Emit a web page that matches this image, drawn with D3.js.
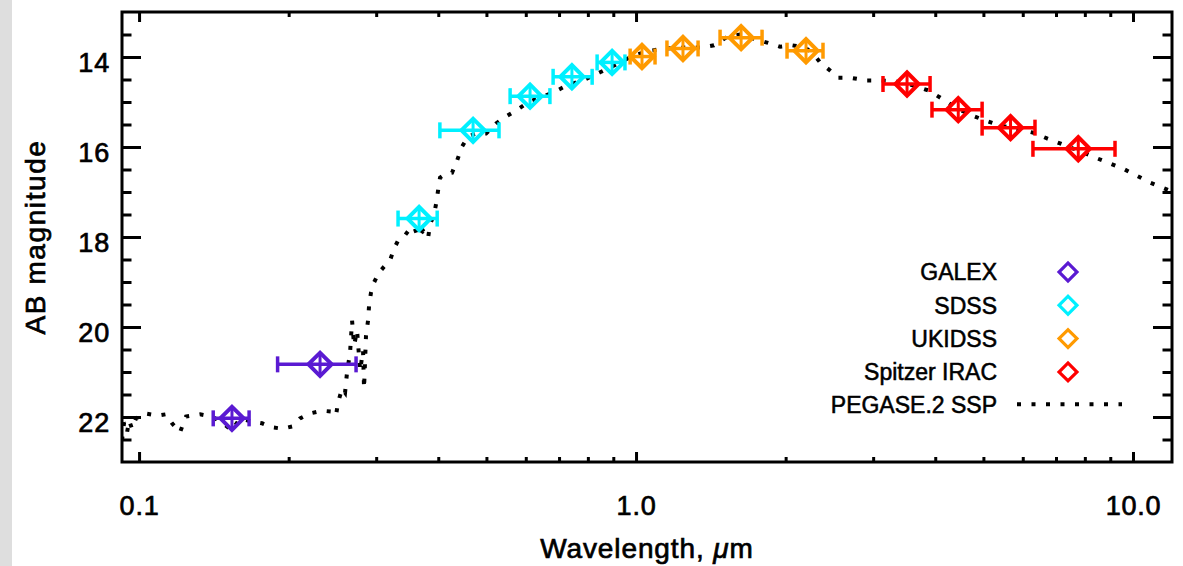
<!DOCTYPE html>
<html>
<head>
<meta charset="utf-8">
<script src="https://cdn.jsdelivr.net/npm/d3@7"></script>
<style>
  html, body { margin: 0; padding: 0; background: #ffffff; }
  svg { display: block; }
  text { font-family: "Liberation Sans", Arial, Helvetica, sans-serif; fill: #000; stroke: #000; stroke-width: 0.7px; }
</style>
</head>
<body>
<svg id="chart" width="1183" height="566"></svg>
<script>
// ---- Photometry: effective wavelength (um), AB magnitude, filter extent (um), mag error
const galexWave = [0.1538, 0.2313];
const galexMag  = [22.03, 20.83];
const galexLo   = [0.141, 0.190];
const galexHi   = [0.1665, 0.2733];
const galexErr  = [0.22, 0.22];

const sdssWave = [0.366, 0.470, 0.612, 0.743, 0.895];
const sdssMag  = [17.59, 15.63, 14.87, 14.44, 14.12];
const sdssLo   = [0.332, 0.403, 0.558, 0.681, 0.835];
const sdssHi   = [0.398, 0.530, 0.671, 0.816, 0.950];
const sdssErr  = [0.22, 0.22, 0.22, 0.22, 0.22];

const ukidssWave = [1.028, 1.243, 1.627, 2.198];
const ukidssMag  = [13.99, 13.81, 13.57, 13.86];
const ukidssLo   = [0.973, 1.154, 1.476, 2.013];
const ukidssHi   = [1.092, 1.333, 1.793, 2.378];
const ukidssErr  = [0.22, 0.22, 0.22, 0.22];

const iracWave = [3.51, 4.45, 5.67, 7.76];
const iracMag  = [14.60, 15.17, 15.57, 16.04];
const iracLo   = [3.14, 3.94, 4.97, 6.29];
const iracHi   = [3.905, 4.97, 6.35, 9.20];
const iracErr  = [0.22, 0.22, 0.22, 0.22];

// ---- PEGASE.2 single stellar population model spectrum
const modelWave = [
  0.0924, 0.0933, 0.0946, 0.0955, 0.0968, 0.0986, 0.1028, 0.1092, 0.1133, 0.1165,
  0.1209, 0.1243, 0.1327, 0.1402, 0.1469, 0.1538, 0.1596, 0.1688, 0.1768, 0.1852,
  0.1940, 0.2032, 0.2108, 0.2208, 0.2334, 0.2444, 0.2490, 0.2514, 0.2561, 0.2597,
  0.2621, 0.2658, 0.2683, 0.2708, 0.2746, 0.2785, 0.2823, 0.2836, 0.2862, 0.2889,
  0.2903, 0.2929, 0.2970, 0.3040, 0.3112, 0.3199, 0.3259, 0.3320, 0.3414, 0.3510,
  0.3576, 0.3643, 0.3728, 0.3815, 0.3851, 0.3923, 0.3960, 0.3996, 0.4033, 0.4147,
  0.4264, 0.4364, 0.4466, 0.4592, 0.4765, 0.4991, 0.5227, 0.5475, 0.5735, 0.6062,
  0.6409, 0.6808, 0.7266, 0.7824, 0.8465, 0.9031, 0.9862, 1.067, 1.154, 1.249,
  1.358, 1.435, 1.517, 1.619, 1.720, 1.835, 1.949, 2.060, 2.188, 2.271,
  2.346, 2.457, 2.549, 2.696, 2.902, 3.097, 3.319, 3.558, 3.869, 4.090,
  4.384, 4.745, 5.039, 5.399, 5.788, 6.291, 6.714, 7.131, 7.932, 8.502,
  9.548, 10.82, 11.98
];
const modelMag = [
  22.52, 22.12, 22.34, 22.08, 22.26, 22.03, 21.92, 21.97, 21.94, 22.14,
  22.34, 21.99, 21.94, 21.99, 22.12, 22.30, 22.03, 22.10, 22.14, 22.23,
  22.26, 22.21, 22.03, 21.92, 21.86, 21.88, 21.97, 21.68, 21.37, 21.46,
  21.01, 20.57, 19.86, 20.41, 20.08, 20.97, 20.52, 21.37, 20.19, 19.86,
  19.52, 19.23, 19.01, 18.79, 18.66, 18.52, 18.26, 18.08, 17.99, 17.81,
  17.77, 18.01, 17.86, 18.03, 17.72, 17.50, 17.26, 16.97, 16.68, 16.59,
  16.57, 16.30, 15.99, 15.77, 15.70, 15.70, 15.48, 15.32, 15.19, 15.01,
  14.90, 14.79, 14.63, 14.52, 14.34, 14.19, 13.97, 13.86, 13.81, 13.79,
  13.79, 13.74, 13.57, 13.50, 13.59, 13.68, 13.77, 13.74, 13.79, 13.92,
  14.12, 14.30, 14.46, 14.46, 14.52, 14.52, 14.54, 14.61, 14.74, 14.90,
  15.12, 15.30, 15.41, 15.52, 15.59, 15.68, 15.81, 15.92, 16.12, 16.26,
  16.48, 16.79, 16.99
];

// ---- Axis ticks
const xMajorTicks = [0.1, 1, 10];
const xTickLabels = ["0.1", "1.0", "10.0"];
const xMinorTicks = [0.2, 0.3, 0.4, 0.5, 0.6, 0.7, 0.8, 0.9, 2, 3, 4, 5, 6, 7, 8, 9];
const yMajorTicks = [14, 16, 18, 20, 22];
const yMinorTicks = [13.5, 14.5, 15, 15.5, 16.5, 17, 17.5, 18.5, 19, 19.5, 20.5, 21, 21.5, 22.5];

const legendNames  = ["GALEX", "SDSS", "UKIDSS", "Spitzer IRAC"];
const legendColors = ["#5a1ad2", "#00f0ff", "#ff9a00", "#ff0000"];
const modelName = "PEGASE.2 SSP";

const series = [
  { wave: galexWave,  mag: galexMag,  lo: galexLo,  hi: galexHi,  err: galexErr,  color: legendColors[0] },
  { wave: sdssWave,   mag: sdssMag,   lo: sdssLo,   hi: sdssHi,   err: sdssErr,   color: legendColors[1] },
  { wave: ukidssWave, mag: ukidssMag, lo: ukidssLo, hi: ukidssHi, err: ukidssErr, color: legendColors[2] },
  { wave: iracWave,   mag: iracMag,   lo: iracLo,   hi: iracHi,   err: iracErr,   color: legendColors[3] }
];

// ---- Layout
const W = 1183, H = 566;
const plotL = 122, plotR = 1172, plotT = 12, plotB = 462;

const svg = d3.select("#chart");

// light grey margin strip at the far left
svg.append("rect").attr("x", 0).attr("y", 0).attr("width", 12).attr("height", H).attr("fill", "#dedede");

const x = d3.scaleLog().domain([0.0924, 11.98]).range([plotL, plotR]);
const y = d3.scaleLinear().domain([13, 23]).range([plotT, plotB]);

svg.append("clipPath").attr("id", "plotArea")
  .append("rect").attr("x", plotL).attr("y", plotT).attr("width", plotR - plotL).attr("height", plotB - plotT);

// ---- Model spectrum (dotted)
const modelPts = modelWave.map((w, i) => [w, modelMag[i]]);
svg.append("path")
  .attr("clip-path", "url(#plotArea)")
  .attr("d", d3.line().x(d => x(d[0])).y(d => y(d[1]))(modelPts))
  .attr("fill", "none")
  .attr("stroke", "#000")
  .attr("stroke-width", 4)
  .attr("stroke-dasharray", "4,10.5");

// ---- Photometric points with error bars
const diamond = d3.symbol().type(d3.symbolSquare).size(270);
const capHalf = 8;

series.forEach(s => {
  const g = svg.append("g").attr("stroke", s.color).attr("fill", "none");
  s.wave.forEach((w, i) => {
    const cx = x(w), cy = y(s.mag[i]);
    const x0 = x(s.lo[i]), x1 = x(s.hi[i]);
    g.append("line").attr("x1", x0).attr("x2", x1).attr("y1", cy).attr("y2", cy).attr("stroke-width", 3.5);
    g.append("line").attr("x1", x0).attr("x2", x0).attr("y1", cy - capHalf).attr("y2", cy + capHalf).attr("stroke-width", 3.5);
    g.append("line").attr("x1", x1).attr("x2", x1).attr("y1", cy - capHalf).attr("y2", cy + capHalf).attr("stroke-width", 3.5);
    g.append("line").attr("x1", cx).attr("x2", cx)
      .attr("y1", y(s.mag[i] - s.err[i])).attr("y2", y(s.mag[i] + s.err[i])).attr("stroke-width", 3);
    g.append("path").attr("d", diamond())
      .attr("transform", `translate(${cx},${cy}) rotate(45)`)
      .attr("stroke-width", 4);
  });
});

// ---- Axes (ticks point into the plot on all four sides)
function styleAxis(g) {
  g.select(".domain").remove();
  g.selectAll(".tick line").attr("stroke", "#000").attr("stroke-width", 3);
  g.selectAll(".tick text")
    .style("font-size", "27px")
    .style("letter-spacing", "0.8px")
    .attr("fill", "#000");
}

// bottom
svg.append("g").attr("transform", `translate(0,${plotB})`)
  .call(d3.axisBottom(x).tickValues(xMajorTicks).tickSize(-10).tickPadding(34)
    .tickFormat((d, i) => xTickLabels[i]))
  .call(styleAxis);
svg.append("g").attr("transform", `translate(0,${plotB})`)
  .call(d3.axisBottom(x).tickValues(xMinorTicks).tickSize(-5).tickFormat(""))
  .call(styleAxis);
// top
svg.append("g").attr("transform", `translate(0,${plotT})`)
  .call(d3.axisTop(x).tickValues(xMajorTicks).tickSize(-10).tickFormat(""))
  .call(styleAxis);
svg.append("g").attr("transform", `translate(0,${plotT})`)
  .call(d3.axisTop(x).tickValues(xMinorTicks).tickSize(-5).tickFormat(""))
  .call(styleAxis);
// left
const leftAxis = svg.append("g").attr("transform", `translate(${plotL},0)`)
  .call(d3.axisLeft(y).tickValues(yMajorTicks).tickSize(-19).tickPadding(12).tickFormat(d3.format("d")))
  .call(styleAxis);
leftAxis.selectAll(".tick text").attr("dy", "0.54em").attr("x", -12);
svg.append("g").attr("transform", `translate(${plotL},0)`)
  .call(d3.axisLeft(y).tickValues(yMinorTicks).tickSize(-9.5).tickFormat(""))
  .call(styleAxis);
// right
svg.append("g").attr("transform", `translate(${plotR},0)`)
  .call(d3.axisRight(y).tickValues(yMajorTicks).tickSize(-19).tickFormat(""))
  .call(styleAxis);
svg.append("g").attr("transform", `translate(${plotR},0)`)
  .call(d3.axisRight(y).tickValues(yMinorTicks).tickSize(-9.5).tickFormat(""))
  .call(styleAxis);

// frame
svg.append("rect")
  .attr("x", plotL).attr("y", plotT).attr("width", plotR - plotL).attr("height", plotB - plotT)
  .attr("fill", "none").attr("stroke", "#000").attr("stroke-width", 3);

// ---- Axis titles
const xTitle = svg.append("text")
  .attr("x", (plotL + plotR) / 2).attr("y", 558)
  .attr("text-anchor", "middle")
  .style("font-size", "28px").style("letter-spacing", "0.9px");
xTitle.append("tspan").text("Wavelength, ");
xTitle.append("tspan").style("font-style", "italic").text("\u03bc");
xTitle.append("tspan").text("m");

svg.append("text")
  .attr("transform", `translate(45,${(plotT + plotB) / 2}) rotate(-90)`)
  .attr("text-anchor", "middle")
  .style("font-size", "28px").style("letter-spacing", "1.6px")
  .text("AB magnitude");

// ---- Legend
const legendTextX = 997, legendMarkX = 1068;
const legendY0 = 272, legendStep = 33.3;
const legend = svg.append("g");
legendNames.forEach((name, i) => {
  const cy = legendY0 + i * legendStep;
  legend.append("text").attr("x", legendTextX).attr("y", cy).attr("dy", "0.36em")
    .attr("text-anchor", "end").style("font-size", "23px").style("stroke-width", "0.55px").text(name);
  legend.append("path")
    .attr("d", d3.symbol().type(d3.symbolSquare).size(160)())
    .attr("transform", `translate(${legendMarkX},${cy}) rotate(45)`)
    .attr("fill", "none").attr("stroke", legendColors[i]).attr("stroke-width", 3.2);
});
const modelY = legendY0 + 4 * legendStep;
legend.append("text").attr("x", legendTextX).attr("y", modelY).attr("dy", "0.36em")
  .attr("text-anchor", "end").style("font-size", "23px").style("stroke-width", "0.55px").text(modelName);
legend.append("line")
  .attr("x1", 1017).attr("x2", 1122).attr("y1", modelY - 1).attr("y2", modelY - 1)
  .attr("stroke", "#000").attr("stroke-width", 4).attr("stroke-dasharray", "4,10.5");
</script>
</body>
</html>
